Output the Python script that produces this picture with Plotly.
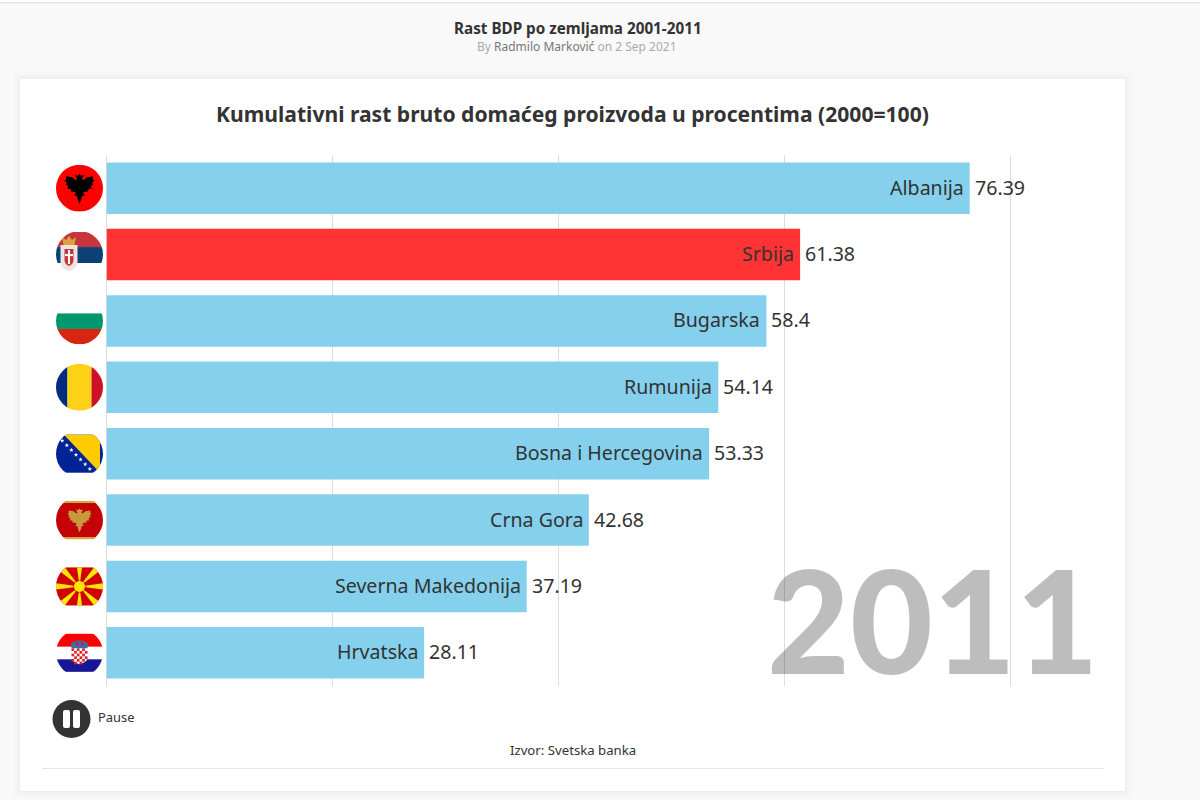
import base64
import math
import plotly.graph_objects as go

categories = ["Albanija", "Srbija", "Bugarska", "Rumunija", "Bosna i Hercegovina",
              "Crna Gora", "Severna Makedonija", "Hrvatska"]
values = [76.39, 61.38, 58.4, 54.14, 53.33, 42.68, 37.19, 28.11]
value_labels = ["76.39", "61.38", "58.4", "54.14", "53.33", "42.68", "37.19", "28.11"]
colors = ["#85D0EC", "#FF3333", "#85D0EC", "#85D0EC", "#85D0EC", "#85D0EC", "#85D0EC", "#85D0EC"]
grid_ticks = [0, 20, 40, 60, 80]
title_text = "Kumulativni rast bruto domaćeg proizvoda u procentima (2000=100)"
page_title = "Rast BDP po zemljama 2001-2011"
byline = "<span style='color:#aaaaaa'>By</span> Radmilo Marković <span style='color:#aaaaaa'>on 2 Sep 2021</span>"
source_text = "Izvor: Svetska banka"
year_text = "2011"

FONT = "Noto Sans"
W, H = 1200, 800


def px(x):
    return x / W


def py(y):
    return 1 - y / H


def rays(n, cx, cy, r, w, start=0.0):
    out = ""
    for i in range(n):
        a = start + 2 * math.pi * i / n
        x1, y1 = cx + r * math.cos(a - w), cy + r * math.sin(a - w)
        x2, y2 = cx + r * math.cos(a + w), cy + r * math.sin(a + w)
        out += f'<polygon fill="#FFE600" points="{cx},{cy} {x1:.1f},{y1:.1f} {x2:.1f},{y2:.1f}"/>'
    return out


def checker():
    out = '<path d="M15.5 20 H31.5 V28 Q31.5 33 23.5 35 Q15.5 33 15.5 28 Z" fill="#fff"/>'
    s = 2.67
    for r in range(6):
        for c in range(6):
            if (r + c) % 2 == 0:
                y = 19 + r * s
                x = 15.5 + c * s
                if r == 5 and c in (0, 4, 5):
                    continue
                out += f'<rect x="{x:.2f}" y="{y:.2f}" width="{s}" height="{s}" fill="#E0202A"/>'
    out += '<path d="M15 14 L19 12 L23.5 11 L28 12 L32 14 L31.5 19 H15.5 Z" fill="#3A6EA5"/>'
    out += '<rect x="20" y="13" width="2.5" height="3" fill="#C8202A"/><rect x="25" y="13" width="2.5" height="3" fill="#C8202A"/>'
    return out


def star(cx, cy, r):
    pts = []
    for i in range(10):
        a = -math.pi / 2 + i * math.pi / 5
        rr = r if i % 2 == 0 else r * 0.42
        pts.append(f"{cx + rr * math.cos(a):.2f},{cy + rr * math.sin(a):.2f}")
    return f'<polygon fill="#fff" points="{" ".join(pts)}"/>'


def stars():
    return "".join(star(6.2 + i * 4.6, 10.5 + i * 4.7, 2.3) for i in range(7))


EAGLE = ('<path fill="{c}" d="M23.5 9 L25 11 L28 10.5 L26 14 L27 15.5 L31 12.5 L37 11.5 L37 15 L38.5 16 L36 18 L37.5 20 '
         'L35 21 L35.5 24 L32.5 24 L32 27 L29 27 L27 28 L29 31 L26 31 L25.5 34 L23.5 39 L21.5 34 L21 31 L18 31 L20 28 '
         'L18 27 L15 27 L14.5 24 L11.5 24 L12 21 L9.5 20 L11 18 L8.5 16 L10 15 L10 11.5 L16 12.5 L20 15.5 L21 14 L19 10.5 L22 11 Z"/>')

FLAGS = {
    "Albanija": '<rect width="47" height="47" fill="#FF0000"/>' + EAGLE.format(c="#000"),
    "Srbija": '<rect y="1" width="47" height="15" fill="#C6363C"/><rect y="16" width="47" height="16" fill="#0C4076"/>'
              '<rect y="32" width="47" height="15" fill="#fff"/>'
              '<path d="M4.5 14 H21.5 V31 Q21.5 38 13 40 Q4.5 38 4.5 31 Z" fill="#EDE4E0"/>'
              '<path d="M6 6 L10 9 L13 5 L16 9 L20 6 L18.5 14 H7.5 Z" fill="#D9A23A"/>'
              '<path d="M8.5 18 H17.5 V29 Q17.5 33 13 35 Q8.5 33 8.5 29 Z" fill="#C6363C"/>'
              '<rect x="12" y="19" width="2" height="14" fill="#fff"/><rect x="9" y="23" width="8" height="2" fill="#fff"/>',
    "Bugarska": '<rect y="16" width="47" height="15.5" fill="#00966E"/><rect y="31.5" width="47" height="15.5" fill="#D62612"/>',
    "Rumunija": '<rect width="11.5" height="47" fill="#002B7F"/><rect x="11.5" width="24" height="47" fill="#FCD116"/>'
                '<rect x="35.5" width="11.5" height="47" fill="#CE1126"/>',
    "Bosna i Hercegovina": '<rect y="4.5" width="47" height="38" fill="#002395"/>'
                           '<polygon points="8,4.5 44,4.5 44,42.5" fill="#FECB00"/>' + stars(),
    "Crna Gora": '<rect y="4.5" width="47" height="38" fill="#C40308"/><rect y="4.5" width="47" height="2" fill="#D3AE3B"/>'
                 '<rect y="40.5" width="47" height="2" fill="#D3AE3B"/>'
                 + EAGLE.format(c="#C99A3C").replace("<path", '<path transform="translate(4.7 4.7) scale(.8)"'),
    "Severna Makedonija": '<rect y="4.5" width="47" height="38" fill="#D20000"/>'
                          '<g clip-path="url(#r)">' + rays(8, 23.5, 23.5, 36, 0.13, start=0.0) + '</g>'
                          '<circle cx="23.5" cy="23.5" r="5.5" fill="#FFE600"/><circle cx="23.5" cy="23.5" r="6.3" fill="none" stroke="#D20000" stroke-width=".6"/>',
    "Hrvatska": '<rect y="4.5" width="47" height="13" fill="#FF0000"/><rect y="17.5" width="47" height="12.5" fill="#fff"/>'
                '<rect y="30" width="47" height="12.5" fill="#171796"/>' + checker(),
}


def flag_uri(body):
    svg = ('<svg xmlns="http://www.w3.org/2000/svg" width="188" height="188" viewBox="0 0 47 47">'
           '<defs><clipPath id="c"><circle cx="23.5" cy="23.5" r="23.5"/></clipPath>'
           '<clipPath id="r"><rect y="4.5" width="47" height="38"/></clipPath></defs>'
           f'<g clip-path="url(#c)">{body}</g></svg>')
    return "data:image/svg+xml;base64," + base64.b64encode(svg.encode()).decode()


fig = go.Figure()
fig.add_trace(go.Bar(
    x=values, y=categories, orientation="h",
    marker=dict(color=colors, line=dict(width=0)),
    hoverinfo="skip", showlegend=False,
))

shapes = []
for grow, alpha in [(7, 0.006), (5, 0.008), (3, 0.01), (1, 0.015)]:
    shapes.append(dict(type="rect", xref="paper", yref="paper", layer="below",
                       x0=px(20 - grow), x1=px(1125 + grow), y0=py(79 - grow), y1=py(791 + grow),
                       fillcolor=f"rgba(0,0,0,{alpha})", line=dict(width=0)))
shapes.append(dict(type="rect", xref="paper", yref="paper", layer="below",
                   x0=px(20), x1=px(1125), y0=py(79), y1=py(791), fillcolor="#ffffff", line=dict(width=0)))
shapes.append(dict(type="rect", xref="paper", yref="paper", layer="below",
                   x0=0, x1=1, y0=py(0), y1=py(2), fillcolor="#ffffff", line=dict(width=0)))
shapes.append(dict(type="rect", xref="paper", yref="paper", layer="below",
                   x0=0, x1=1, y0=py(2), y1=py(3.5), fillcolor="#e6e6e6", line=dict(width=0)))
shapes.append(dict(type="line", xref="paper", yref="paper", layer="below",
                   x0=px(42), x1=px(1104), y0=py(768.5), y1=py(768.5), line=dict(color="#e6e6e6", width=1)))
shapes.append(dict(type="circle", xref="paper", yref="paper",
                   x0=px(52.5), x1=px(90.5), y0=py(700), y1=py(738), fillcolor="#333333", line=dict(width=0)))
for x0, x1 in [(63, 70), (73, 80)]:
    shapes.append(dict(type="path", xref="paper", yref="paper",
                       path=(f"M {px(x0+2)} {py(710)} L {px(x1-2)} {py(710)} Q {px(x1)} {py(710)} {px(x1)} {py(712)} "
                             f"L {px(x1)} {py(726)} Q {px(x1)} {py(728)} {px(x1-2)} {py(728)} L {px(x0+2)} {py(728)} "
                             f"Q {px(x0)} {py(728)} {px(x0)} {py(726)} L {px(x0)} {py(712)} Q {px(x0)} {py(710)} {px(x0+2)} {py(710)} Z"),
                       fillcolor="#ffffff", line=dict(width=0)))

images = [dict(source=flag_uri(FLAGS[c]), xref="paper", yref="y", x=px(56), y=c,
               sizex=px(47), sizey=47 / 66.3, xanchor="left", yanchor="middle",
               sizing="stretch", layer="above") for c in categories]


def note(text, x, y, size, color="#333333", anchor="center", family=FONT, weight=None):
    font = dict(family=family, size=size, color=color)
    if weight:
        font["weight"] = weight
    return dict(text=text, xref="paper", yref="paper", x=px(x), y=py(y), xanchor=anchor, yanchor="middle",
                showarrow=False, font=font)


annotations = [
    note(f"<b>{page_title}</b>", 577.5, 27.5, 15.25),
    note(byline, 577, 46, 12, color="#777777"),
    note(f"<b>{title_text}</b>", 572.5, 113.5, 21.1),
    note("Pause", 95.5, 717, 12.9, anchor="left"),
    note(source_text, 572.5, 750, 13.2),
    note(year_text, 933, 618.5, 143, color="rgba(0,0,0,0.26)", family="Lato", weight=900),
]
for cat, val, lab in zip(categories, values, value_labels):
    annotations.append(dict(text=lab, xref="x", yref="y", x=val, y=cat, xanchor="left", yanchor="middle",
                            xshift=3, yshift=1, showarrow=False, font=dict(family=FONT, size=19.6, color="#333333")))
    annotations.append(dict(text=cat, xref="x", yref="y", x=val, y=cat, xanchor="right", yanchor="middle",
                            xshift=-4, yshift=1, showarrow=False, font=dict(family=FONT, size=19.6, color="#333333")))

fig.update_layout(
    width=W, height=H, autosize=False,
    margin=dict(l=0, r=0, t=0, b=0, pad=0),
    paper_bgcolor="#f9f9f9", plot_bgcolor="rgba(0,0,0,0)",
    bargap=0.225, showlegend=False,
    shapes=shapes, images=images, annotations=annotations,
    xaxis=dict(domain=[px(106.5), px(1100)], range=[0, (1100 - 106.5) / 11.3], tickvals=grid_ticks,
               showticklabels=False, showgrid=True, gridcolor="#dddddd", gridwidth=1,
               zeroline=True, zerolinecolor="#dddddd", zerolinewidth=1, showline=False, fixedrange=True),
    yaxis=dict(domain=[py(686), py(155)], type="category", categoryorder="array", categoryarray=categories,
               range=[7.5, -0.5], showticklabels=False, showgrid=False, zeroline=False, showline=False, fixedrange=True),
)

fig.write_html("out.html", config={"displayModeBar": False},
               post_script="document.body.style.margin='0';document.body.style.overflow='hidden';")
